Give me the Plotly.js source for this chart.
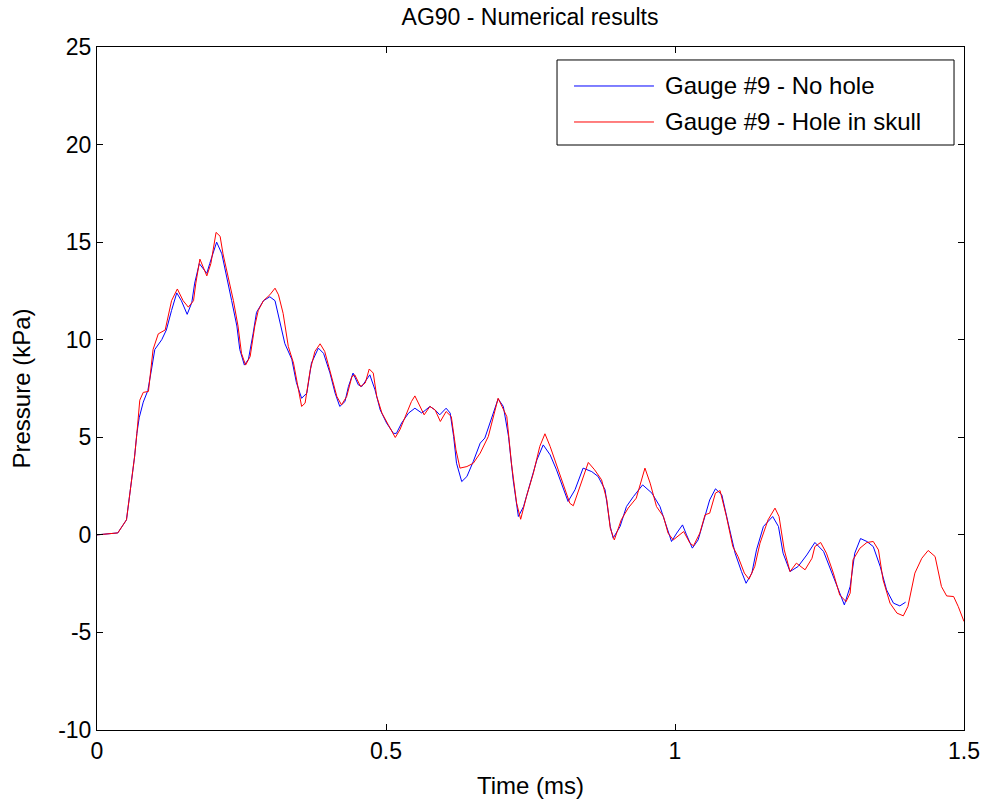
<!DOCTYPE html>
<html>
<head>
<meta charset="utf-8">
<script src="https://cdn.plot.ly/plotly-3.0.1.min.js"></script>
<style>html,body{margin:0;padding:0;background:#fff;}#chart{width:987px;height:807px;}</style>
</head>
<body>
<div id="chart"></div>
<script>
const titleText = "AG90 - Numerical results";
const xLabel = "Time (ms)";
const yLabel = "Pressure (kPa)";
const seriesNames = ["Gauge #9 - No hole", "Gauge #9 - Hole in skull"];
const seriesColors = ["#0000ff", "#ff0000"];
const xTicks = [0, 0.5, 1, 1.5];
const yTicks = [-10, -5, 0, 5, 10, 15, 20, 25];

const tNoHole = [0,0.02,0.036,0.051,0.06,0.065,0.069,0.073,0.08,0.088,0.095,0.1,0.112,0.12,0.129,0.138,0.146,0.156,0.164,0.169,0.177,0.19,0.195,0.207,0.216,0.224,0.233,0.242,0.247,0.255,0.262,0.27,0.276,0.288,0.299,0.308,0.317,0.325,0.337,0.345,0.354,0.363,0.371,0.383,0.392,0.403,0.412,0.42,0.429,0.435,0.443,0.452,0.458,0.467,0.472,0.481,0.49,0.501,0.513,0.518,0.527,0.539,0.55,0.562,0.576,0.585,0.593,0.604,0.611,0.617,0.622,0.631,0.64,0.651,0.663,0.671,0.68,0.694,0.703,0.712,0.72,0.729,0.738,0.749,0.761,0.772,0.784,0.795,0.807,0.815,0.827,0.841,0.856,0.867,0.879,0.888,0.893,0.905,0.916,0.928,0.944,0.96,0.974,0.986,0.994,1.003,1.013,1.02,1.03,1.04,1.052,1.06,1.07,1.081,1.092,1.104,1.115,1.123,1.133,1.141,1.153,1.169,1.179,1.187,1.199,1.213,1.228,1.242,1.257,1.271,1.283,1.293,1.303,1.311,1.321,1.332,1.343,1.355,1.366,1.378,1.389,1.399];
const pNoHole = [0,0.05,0.1,0.77,2.8,4.0,5.2,6.0,6.8,7.4,8.6,9.5,10.0,10.5,11.5,12.4,12.0,11.3,11.9,12.9,13.9,13.4,13.9,15.0,14.4,13.2,12.0,10.7,9.5,8.7,9.0,10.3,11.4,12.0,12.2,12.0,10.85,9.8,9.0,7.8,7.0,7.26,8.8,9.57,9.3,8.3,7.26,6.58,6.83,7.6,8.29,7.69,7.6,8.0,8.2,7.43,6.4,5.73,5.2,5.2,5.73,6.24,6.49,6.24,6.58,6.4,6.15,6.49,6.24,5.04,3.67,2.73,2.99,3.76,4.7,4.96,5.73,6.97,6.58,5.04,2.82,0.94,1.45,2.65,3.84,4.61,4.1,3.33,2.31,1.71,2.31,3.42,3.24,2.99,2.31,0.43,-0.17,0.43,1.45,1.96,2.56,2.14,1.45,0.43,-0.34,0.09,0.51,0,-0.68,-0.26,0.94,1.79,2.36,2.05,0.6,-0.94,-1.88,-2.48,-1.96,-0.77,0.43,0.94,0.43,-0.94,-1.88,-1.62,-1.03,-0.39,-0.85,-1.88,-2.82,-3.59,-2.65,-0.94,-0.19,-0.34,-0.6,-1.62,-2.82,-3.5,-3.64,-3.45];

const tHole = [0,0.02,0.036,0.051,0.06,0.065,0.069,0.074,0.08,0.089,0.097,0.106,0.118,0.129,0.139,0.149,0.158,0.167,0.171,0.178,0.19,0.197,0.206,0.213,0.218,0.227,0.236,0.244,0.25,0.257,0.265,0.273,0.279,0.288,0.299,0.308,0.314,0.322,0.331,0.34,0.348,0.354,0.36,0.369,0.377,0.386,0.394,0.403,0.415,0.423,0.432,0.441,0.446,0.456,0.464,0.471,0.478,0.484,0.493,0.504,0.516,0.524,0.536,0.544,0.55,0.559,0.566,0.576,0.585,0.594,0.604,0.613,0.621,0.628,0.64,0.651,0.663,0.677,0.694,0.709,0.717,0.726,0.733,0.743,0.755,0.766,0.775,0.784,0.795,0.807,0.818,0.824,0.836,0.85,0.861,0.873,0.882,0.888,0.895,0.907,0.919,0.933,0.948,0.957,0.968,0.98,0.988,0.997,1.015,1.026,1.032,1.043,1.052,1.06,1.07,1.078,1.089,1.1,1.109,1.12,1.128,1.138,1.147,1.161,1.173,1.18,1.189,1.199,1.21,1.225,1.237,1.242,1.252,1.262,1.274,1.285,1.296,1.303,1.308,1.32,1.332,1.343,1.352,1.36,1.372,1.384,1.395,1.403,1.415,1.427,1.438,1.45,1.461,1.47,1.482,1.49,1.5];
const pHole = [0,0.05,0.1,0.77,2.8,4.0,5.2,6.9,7.3,7.35,9.5,10.3,10.5,12.0,12.6,12.0,11.67,12.0,12.9,14.13,13.27,13.9,15.5,15.3,14.4,13.2,12.0,10.7,9.3,8.7,9.14,10.7,11.5,12.0,12.3,12.64,12.3,11.35,9.65,8.8,7.43,6.58,6.75,8.46,9.4,9.79,9.4,8.46,7.09,6.66,7.09,8.11,8.2,7.6,7.78,8.5,8.29,7.09,6.24,5.64,4.99,5.38,6.24,6.83,7.12,6.58,6.15,6.58,6.4,5.81,6.32,6.06,4.36,3.42,3.5,3.67,4.19,5.04,7.0,6.06,3.67,1.62,0.8,1.96,3.16,4.53,5.18,4.53,3.59,2.48,1.62,1.49,2.48,3.71,3.33,2.82,1.79,0.34,-0.26,0.77,1.37,1.88,3.42,2.65,1.45,0.94,0.09,-0.26,0.17,-0.43,-0.56,0.09,1.03,1.11,2.14,2.27,0.94,-0.6,-1.11,-1.96,-2.27,-1.62,-0.43,0.77,1.37,0.94,-0.77,-1.88,-1.45,-1.79,-1.2,-0.6,-0.39,-0.94,-1.96,-3.08,-3.42,-2.99,-1.28,-0.68,-0.39,-0.34,-0.77,-2.31,-3.5,-4.01,-4.15,-3.67,-1.96,-1.2,-0.8,-1.11,-2.65,-3.13,-3.16,-3.67,-4.44];

const font = "Liberation Sans, Arial, sans-serif";
const traces = [
  {x: tNoHole, y: pNoHole, type: 'scatter', mode: 'lines', name: seriesNames[0], line: {color: seriesColors[0], width: 1}, showlegend: false},
  {x: tHole, y: pHole, type: 'scatter', mode: 'lines', name: seriesNames[1], line: {color: seriesColors[1], width: 1}, showlegend: false}
];
const axisCommon = {
  showgrid: false, zeroline: false, showline: true, linecolor: '#000', linewidth: 1,
  mirror: 'ticks', ticks: 'inside', ticklen: 6, tickcolor: '#000',
  tickfont: {family: font, size: 23, color: '#000'}
};

// legend box (paper coordinates)
const lg = {x0: 0.5306, x1: 0.9885, y0: 0.8565, y1: 0.981, lx0: 0.5502, lx1: 0.6424, tx: 0.6528, rows: [0.9429, 0.8902]};
const shapes = [
  {type: 'rect', xref: 'paper', yref: 'paper', x0: lg.x0, x1: lg.x1, y0: lg.y0, y1: lg.y1, line: {color: '#000', width: 1}, fillcolor: '#fff', layer: 'above'}
];
const annotations = [];
seriesNames.forEach((name, i) => {
  shapes.push({type: 'line', xref: 'paper', yref: 'paper', x0: lg.lx0, x1: lg.lx1, y0: lg.rows[i], y1: lg.rows[i], line: {color: seriesColors[i], width: 1}, layer: 'above'});
  annotations.push({xref: 'paper', yref: 'paper', x: lg.tx, y: lg.rows[i], xanchor: 'left', yanchor: 'middle', showarrow: false, text: name, font: {family: font, size: 24, color: '#000'}});
});

const layout = {
  width: 987, height: 807,
  paper_bgcolor: '#fff', plot_bgcolor: '#fff',
  margin: {l: 97, r: 23, t: 47, b: 77},
  title: {text: titleText, font: {family: font, size: 23, color: '#000'}, x: 0.537, xanchor: 'center', y: 0.979, yanchor: 'middle'},
  xaxis: Object.assign({}, axisCommon, {range: [0, 1.5], tickvals: xTicks, ticktext: xTicks.map(String),
    title: {text: xLabel, font: {family: font, size: 24, color: '#000'}, standoff: 14}}),
  yaxis: Object.assign({}, axisCommon, {range: [-10, 25], tickvals: yTicks, ticktext: yTicks.map(String),
    title: {text: yLabel, font: {family: font, size: 24, color: '#000'}, standoff: 20}}),
  showlegend: false,
  shapes: shapes,
  annotations: annotations
};
Plotly.newPlot('chart', traces, layout, {displayModeBar: false, staticPlot: true});
</script>
</body>
</html>
